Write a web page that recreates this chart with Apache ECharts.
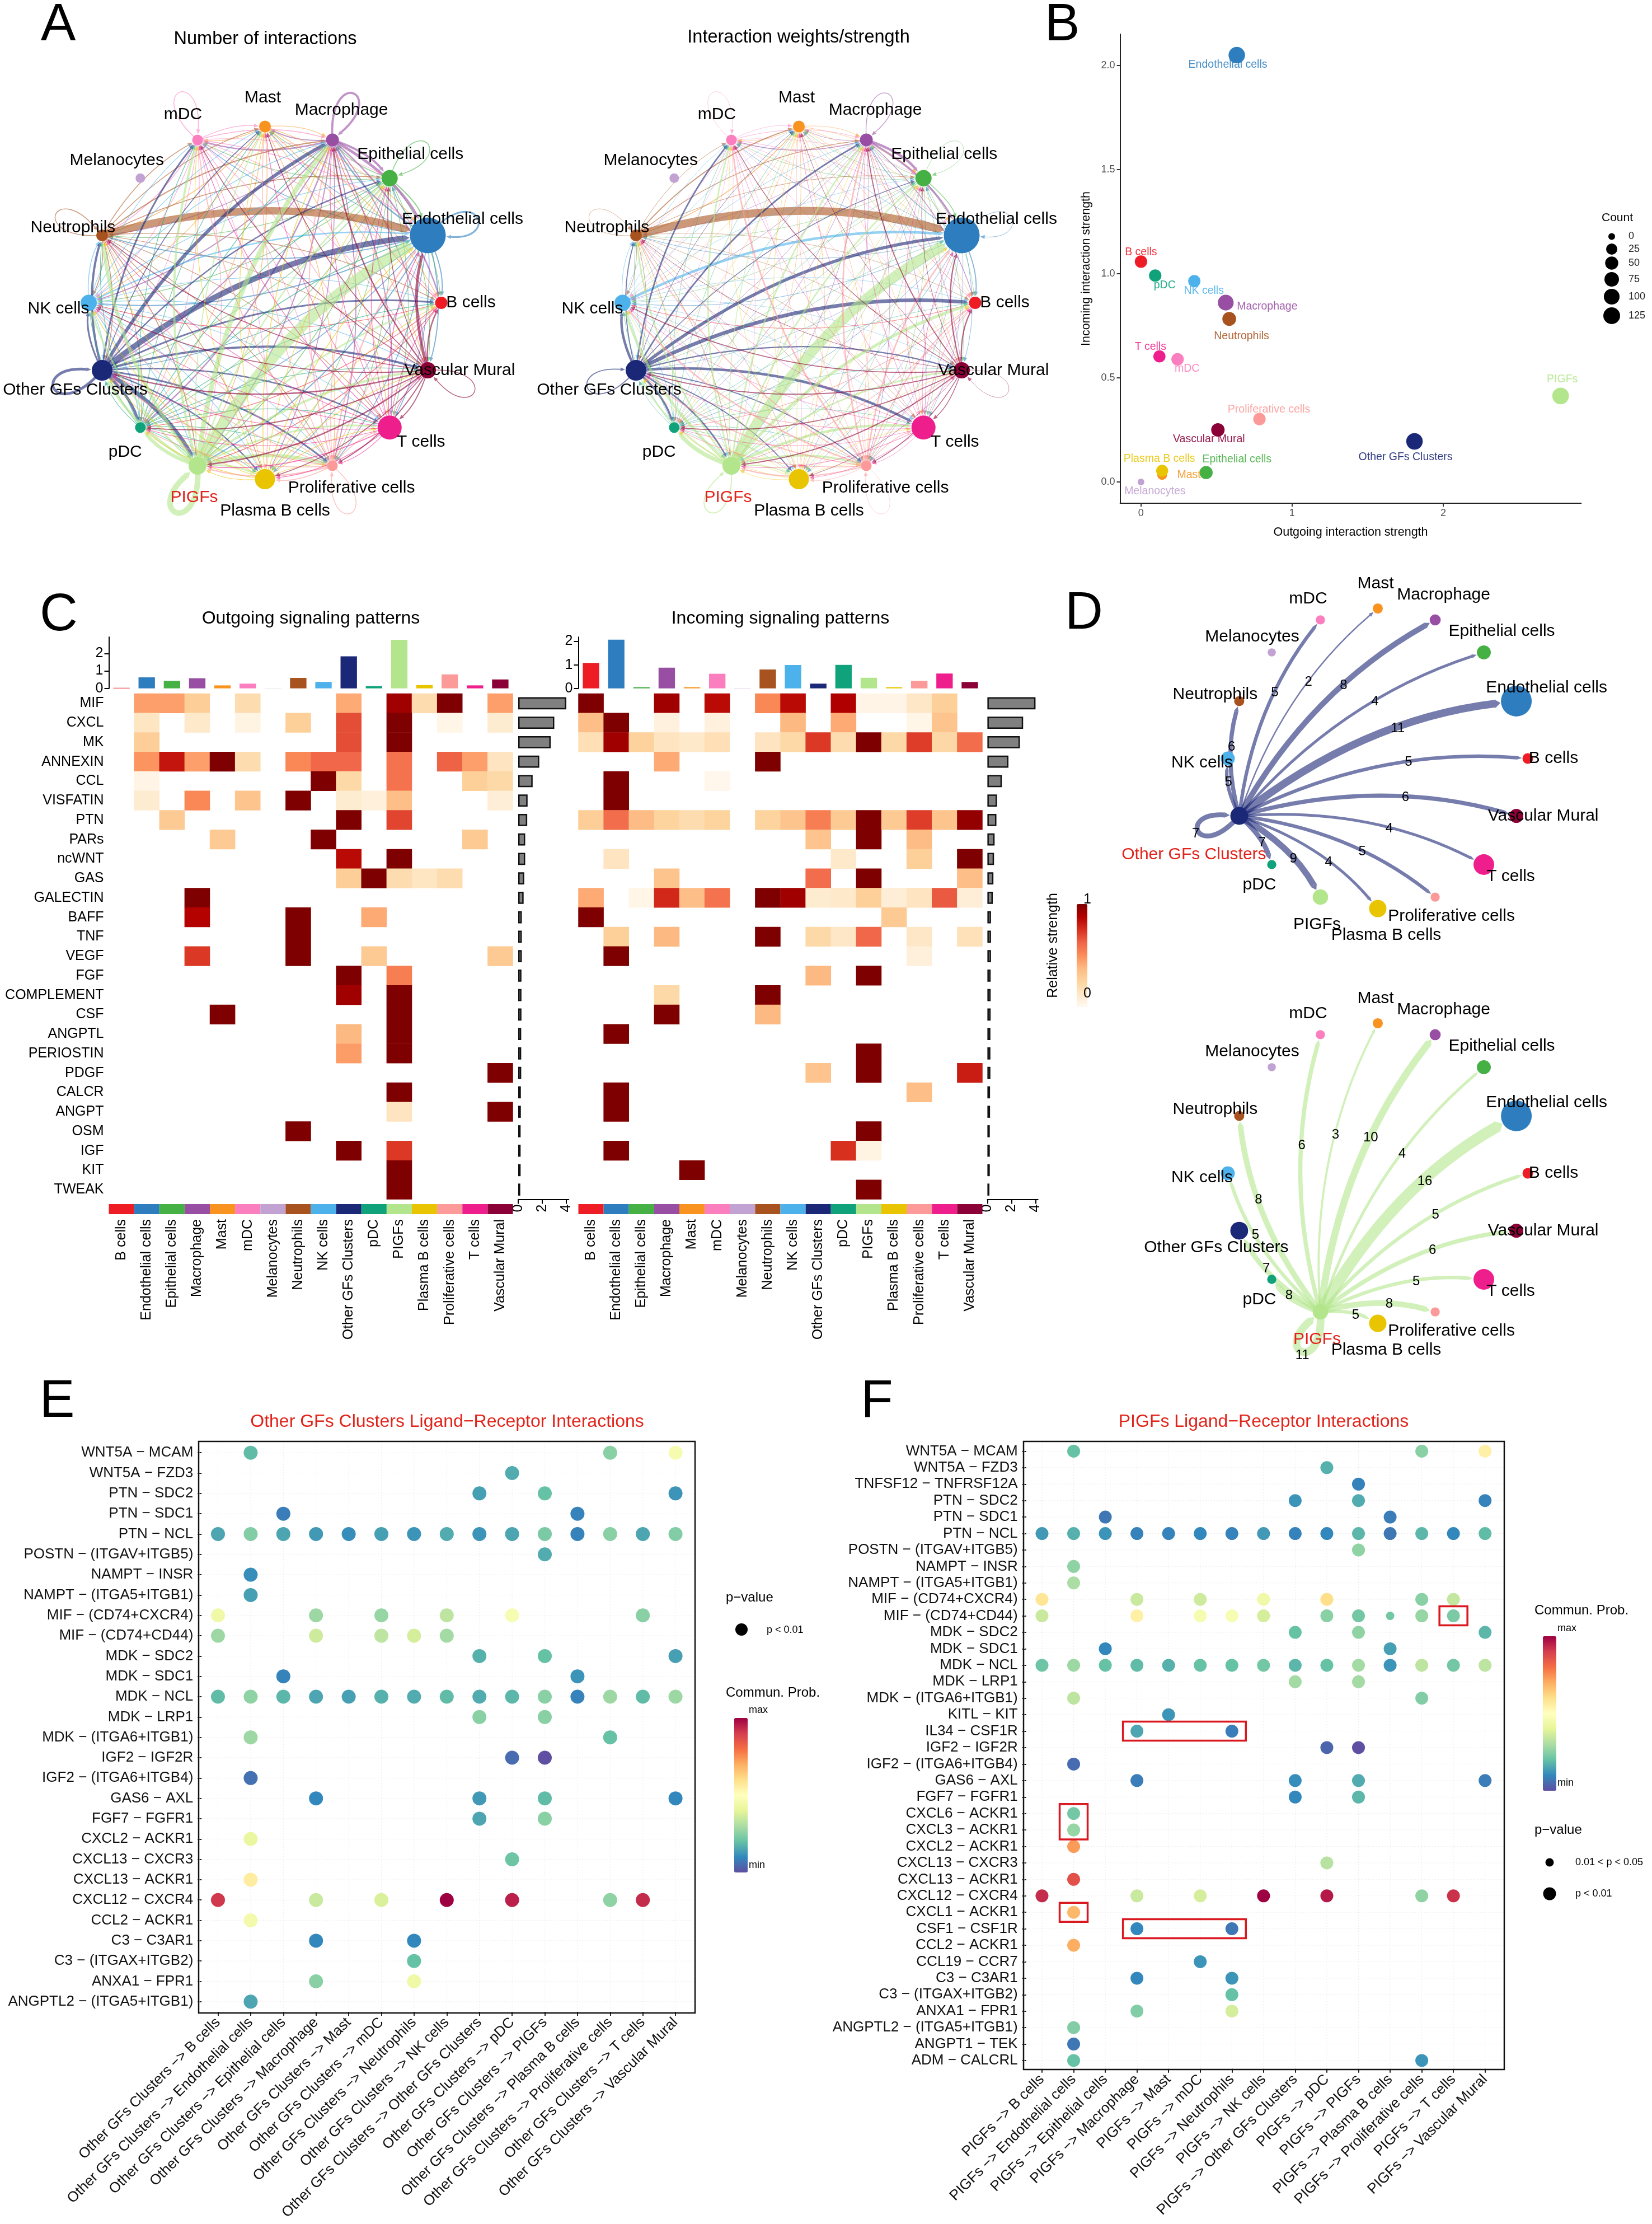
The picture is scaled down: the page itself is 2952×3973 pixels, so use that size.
<!DOCTYPE html>
<html><head><meta charset="utf-8">
<style>html,body{margin:0;padding:0;background:#fff}#c{width:2952px;height:3973px}</style>
<script src="https://cdn.jsdelivr.net/npm/echarts@6/dist/echarts.min.js"></script>
</head><body><div id="c"></div>
<script>
/* ---------- data ---------- */
const cellTypes=['B cells','Endothelial cells','Epithelial cells','Macrophage','Mast','mDC','Melanocytes','Neutrophils','NK cells','Other GFs Clusters','pDC','PIGFs','Plasma B cells','Proliferative cells','T cells','Vascular Mural'];
const cellColors=['#EE1C25','#2E7EBF','#45B044','#984EA3','#F7931E','#FB7EBE','#C2A1D3','#A8531F','#4DB2EC','#1B2777','#10A37B','#B3E68C','#E9C400','#FB9A99','#EE1E8D','#8B0037'];
const vertexWeight=[22,64,29,23,21,19,17,21,29,37,19,32,36,19,43,29];

const interactionCounts=[
[0,0,0,1,0,0,0,0,1,0,1,1,0,0,0,0],
[3,5,2,4,1,2,0,3,3,2,2,3,1,2,2,3],
[1,3,2,2,1,1,0,1,1,1,1,2,1,1,1,1],
[4,7,6,6,3,4,0,2,3,3,4,3,2,3,3,3],
[1,1,0,1,0,1,0,1,1,0,1,1,0,1,1,1],
[1,2,1,2,1,2,0,2,1,1,1,1,1,1,1,1],
[0,0,0,0,0,0,0,0,0,0,0,0,0,0,0,0],
[1,13,2,3,2,2,0,2,2,2,1,2,1,1,1,1],
[1,4,1,2,1,1,0,2,0,1,2,1,1,1,1,1],
[5,11,4,8,2,5,0,6,5,7,7,9,4,5,4,6],
[1,2,1,2,1,1,0,1,1,1,0,1,1,1,1,1],
[5,16,4,10,3,6,0,8,5,7,8,11,5,8,5,6],
[1,2,1,2,1,1,0,1,1,1,1,1,0,1,1,1],
[2,4,2,3,2,3,0,2,2,3,2,4,2,2,2,2],
[1,2,1,1,1,1,0,1,1,1,1,2,1,1,0,1],
[4,7,2,4,2,2,0,2,3,4,3,4,2,3,3,2]];
const interactionWeights=[
[0,0,0,.5,0,0,0,0,1,0,.5,.5,0,0,0,0],
[2,1,1,1.5,.5,1,0,1,1,.5,1,1,.5,.5,.7,1],
[.5,1.5,.5,1,.3,.5,0,.5,.5,.5,.5,.7,.3,.5,.5,.5],
[1.5,4,5,1.5,1,1.5,0,.7,1,1,1,1,.7,1,1,1],
[.4,.5,.3,.5,0,.5,0,1.5,.4,.3,.4,.5,.3,.4,.4,.4],
[.5,1,.5,1,.5,.8,0,.7,.5,.5,.5,.5,.4,.5,.5,.5],
[0,0,0,0,0,0,0,0,0,0,0,0,0,0,0,0],
[.7,16,1,1.5,2,1,0,.8,1,1,.7,1,.5,.7,.7,.7],
[.7,5,.5,1,.5,.7,0,1,0,.5,1,.7,.5,.7,.5,.7],
[7,6,1.5,3,1,3,0,2,5,2,4,3,2,2,5,2.5],
[.4,.7,.4,.7,.4,.5,0,.5,.5,.5,0,.5,.4,.5,.4,.5],
[6,20,3,3,1.5,3,0,3,5,3,8,2,2,4,5,3],
[.4,.6,.4,.6,.4,.5,0,.5,.5,.5,.5,.5,0,.5,.4,.5],
[2,3,1,3,1,3,0,2,3,2,1.5,2.5,1,.8,1.5,1.5],
[.7,1,.5,.7,.5,.7,0,.7,.7,.7,.7,1,.5,.7,0,.5],
[2.5,2.5,1,2,1,1.5,0,1,2,2,2,2,1,1.5,1.5,.7]];

const outgoingStrength=[0,.634,.431,.561,.14,.242,0,.584,.353,1.81,.094,2.777,.14,.784,.122,.509];
const incomingStrength=[1.058,2.049,.045,.861,.034,.589,0,.783,.964,.195,.991,.413,.054,.302,.603,.25];
const cellCounts=[40,118,50,100,12,40,0,62,38,118,40,122,34,40,36,55];
const countLegend=[0,25,50,75,100,125];

const pathways=['MIF','CXCL','MK','ANNEXIN','CCL','VISFATIN','PTN','PARs','ncWNT','GAS','GALECTIN','BAFF','TNF','VEGF','FGF','COMPLEMENT','CSF','ANGPTL','PERIOSTIN','PDGF','CALCR','ANGPT','OSM','IGF','KIT','TWEAK'];
const outgoingHeat=[
[[1,.45],[2,.45],[3,.28],[5,.2],[9,.42],[11,.92],[12,.2],[13,1],[15,.45]],
[[1,.14],[3,.12],[5,.05],[7,.27],[9,.68],[11,1],[13,.03],[15,.1]],
[[1,.28],[9,.68],[11,1]],
[[1,.48],[2,.82],[3,.45],[4,1],[5,.2],[7,.52],[8,.62],[9,.62],[11,.58],[13,.63],[14,.45],[15,.15]],
[[1,.04],[8,1],[9,.22],[11,.58],[14,.27],[15,.22]],
[[1,.1],[3,.52],[5,.33],[7,1],[9,.1],[10,.07],[11,.36],[15,.08]],
[[2,.3],[9,1],[11,.7]],
[[4,.3],[8,1],[14,.3]],
[[9,.85],[11,1]],
[[9,.28],[10,1],[11,.2],[12,.14],[13,.2]],
[[3,1]],
[[3,.87],[7,1],[10,.42]],
[[7,1]],
[[3,.73],[7,1],[10,.3],[15,.3]],
[[9,1],[11,.55]],
[[9,.92],[11,1]],
[[4,1],[11,1]],
[[9,.38],[11,1]],
[[9,.46],[11,1]],
[[15,1]],
[[11,1]],
[[11,.15],[15,1]],
[[7,1]],
[[9,1],[11,.73]],
[[11,1]],
[[11,1]]];
const incomingHeat=[
[[0,1],[3,.92],[5,.85],[7,.52],[8,.85],[10,.88],[11,.04],[12,.04],[13,.13],[14,.27]],
[[0,.36],[1,1],[3,.06],[5,.06],[8,.38],[10,.42],[13,.03],[14,.33]],
[[0,.18],[1,.92],[2,.26],[3,.15],[4,.12],[5,.18],[7,.15],[8,.22],[9,.73],[10,.2],[11,1],[12,.22],[13,.72],[14,.23],[15,.6]],
[[3,.42],[7,1]],
[[1,1],[5,.02]],
[[1,1]],
[[0,.28],[1,.6],[2,.37],[3,.25],[4,.2],[5,.25],[7,.25],[8,.33],[9,.55],[10,.3],[11,1],[12,.3],[13,.72],[14,.33],[15,.95]],
[[9,.33],[11,1],[13,.37]],
[[1,.15],[10,.12],[13,.27],[15,1]],
[[3,.33],[9,.6],[11,1],[15,.36]],
[[0,.42],[2,.03],[3,.77],[4,.36],[5,.58],[7,1],[8,.92],[9,.1],[10,.12],[11,.27],[12,.08],[13,.15],[14,.65],[15,.08]],
[[0,1],[12,.3]],
[[1,.27],[3,.38],[7,1],[9,.22],[10,.13],[11,.62],[13,.13],[15,.17]],
[[1,1],[13,.07]],
[[9,.38],[11,1]],
[[3,.22],[7,1]],
[[3,1],[7,.38]],
[[1,1]],
[[11,1]],
[[9,.33],[11,1],[15,.8]],
[[1,1],[13,.36]],
[[1,1]],
[[11,1]],
[[1,1],[10,.75],[11,.05]],
[[4,1]],
[[11,1]]];
const outgoingTotals=[.03,.63,.43,.58,.17,.27,.01,.6,.37,1.83,.13,2.78,.19,.8,.17,.51];
const incomingTotals=[1.08,2.07,.05,.88,.05,.62,.01,.8,.99,.2,1.0,.45,.05,.32,.63,.27];
const outgoingPathwayTotals=[4.0,3.0,2.7,1.75,1.2,.78,.75,.58,.58,.5,.45,.3,.3,.3,.27,.27,.27,.25,.25,.25,.22,.22,.2,.2,.2,.17];
const incomingPathwayTotals=[4.0,2.97,2.7,1.75,1.2,.8,.75,.6,.55,.5,.45,.3,.3,.3,.27,.27,.27,.25,.25,.25,.22,.22,.2,.2,.2,.17];

const targetCells=['B cells','Endothelial cells','Epithelial cells','Macrophage','Mast','mDC','Neutrophils','NK cells','Other GFs Clusters','pDC','PIGFs','Plasma B cells','Proliferative cells','T cells','Vascular Mural'];
const eRows=['WNT5A − MCAM','WNT5A − FZD3','PTN − SDC2','PTN − SDC1','PTN − NCL','POSTN − (ITGAV+ITGB5)','NAMPT − INSR','NAMPT − (ITGA5+ITGB1)','MIF − (CD74+CXCR4)','MIF − (CD74+CD44)','MDK − SDC2','MDK − SDC1','MDK − NCL','MDK − LRP1','MDK − (ITGA6+ITGB1)','IGF2 − IGF2R','IGF2 − (ITGA6+ITGB4)','GAS6 − AXL','FGF7 − FGFR1','CXCL2 − ACKR1','CXCL13 − CXCR3','CXCL13 − ACKR1','CXCL12 − CXCR4','CCL2 − ACKR1','C3 − C3AR1','C3 − (ITGAX+ITGB2)','ANXA1 − FPR1','ANGPTL2 − (ITGA5+ITGB1)'];
const eDots=[
[[1,.19],[12,.25],[14,.46]],
[[9,.16]],
[[8,.14],[10,.2],[14,.12]],
[[2,.08],[11,.09]],
[[0,.15],[1,.24],[2,.15],[3,.13],[4,.11],[5,.14],[6,.12],[7,.16],[8,.12],[9,.15],[10,.23],[11,.09],[12,.25],[13,.15],[14,.24]],
[[10,.16]],
[[1,.11]],
[[1,.14]],
[[0,.44],[3,.28],[5,.27],[7,.33],[9,.47],[13,.25]],
[[0,.28],[3,.36],[5,.33],[6,.37],[7,.29]],
[[8,.17],[10,.2],[14,.14]],
[[2,.09],[11,.12]],
[[0,.19],[1,.26],[2,.18],[3,.15],[4,.14],[5,.17],[6,.16],[7,.19],[8,.16],[9,.18],[10,.25],[11,.09],[12,.28],[13,.19],[14,.28]],
[[8,.25],[10,.25]],
[[1,.28],[12,.2]],
[[9,.05],[10,0]],
[[1,.06]],
[[3,.1],[8,.13],[10,.19],[14,.1]],
[[8,.15],[10,.25]],
[[1,.42]],
[[9,.21]],
[[1,.56]],
[[0,.91],[3,.35],[5,.38],[7,1],[9,.95],[12,.26],[13,.93]],
[[1,.45]],
[[3,.1],[6,.1]],
[[6,.2]],
[[3,.25],[6,.44]],
[[1,.15]]];
const fRows=['WNT5A − MCAM','WNT5A − FZD3','TNFSF12 − TNFRSF12A','PTN − SDC2','PTN − SDC1','PTN − NCL','POSTN − (ITGAV+ITGB5)','NAMPT − INSR','NAMPT − (ITGA5+ITGB1)','MIF − (CD74+CXCR4)','MIF − (CD74+CD44)','MDK − SDC2','MDK − SDC1','MDK − NCL','MDK − LRP1','MDK − (ITGA6+ITGB1)','KITL − KIT','IL34 − CSF1R','IGF2 − IGF2R','IGF2 − (ITGA6+ITGB4)','GAS6 − AXL','FGF7 − FGFR1','CXCL6 − ACKR1','CXCL3 − ACKR1','CXCL2 − ACKR1','CXCL13 − CXCR3','CXCL13 − ACKR1','CXCL12 − CXCR4','CXCL1 − ACKR1','CSF1 − CSF1R','CCL2 − ACKR1','CCL19 − CCR7','C3 − C3AR1','C3 − (ITGAX+ITGB2)','ANXA1 − FPR1','ANGPTL2 − (ITGA5+ITGB1)','ANGPT1 − TEK','ADM − CALCRL'];
const fDots=[
[[1,.2],[12,.25],[14,.55]],
[[9,.17]],
[[10,.09]],
[[8,.12],[10,.16],[14,.09]],
[[2,.07],[11,.08]],
[[0,.13],[1,.17],[2,.12],[3,.09],[4,.09],[5,.1],[6,.09],[7,.13],[8,.09],[9,.1],[10,.18],[11,.07],[12,.18],[13,.1],[14,.19]],
[[10,.26]],
[[1,.26]],
[[1,.3]],
[[0,.58],[3,.35],[5,.36],[7,.44],[9,.6],[12,.25],[13,.34]],
[[0,.35],[3,.55],[5,.46],[6,.47],[7,.37],[9,.25],[10,.22],[11,.22,1],[12,.27],[13,.23]],
[[8,.2],[10,.26],[14,.18]],
[[2,.1],[11,.14]],
[[0,.21],[1,.28],[2,.2],[3,.19],[4,.17],[5,.2],[6,.2],[7,.22],[8,.18],[9,.2],[10,.29],[11,.12],[12,.33],[13,.22],[14,.33]],
[[8,.29],[10,.29]],
[[1,.33],[12,.24]],
[[4,.12]],
[[3,.15],[6,.08]],
[[9,.04],[10,0]],
[[1,.05]],
[[3,.08],[8,.11],[10,.16],[14,.08]],
[[8,.1],[10,.18]],
[[1,.22]],
[[1,.27]],
[[1,.73]],
[[9,.32]],
[[1,.86]],
[[0,.93],[3,.35],[5,.37],[7,1],[9,.96],[12,.26],[13,.92]],
[[1,.68]],
[[3,.1],[6,.07]],
[[1,.7]],
[[5,.12]],
[[3,.1],[6,.12]],
[[6,.2]],
[[3,.24],[6,.37]],
[[1,.24]],
[[1,.07]],
[[1,.2],[12,.12]]];
/* highlighted boxes: first col, first row, last col, last row */
const fHighlights=[[13,10,13,10],[3,17,6,17],[1,22,1,23],[1,28,1,28],[3,29,6,29]];

/* ---------- style tables ---------- */
const FONT='"Liberation Sans", Arial, sans-serif';
const RED='#E2231A';
const orRd=['#FFFAF2','#FEE8C8','#FDD49E','#FDBB84','#FC8D59','#EF6548','#D7301F','#B30000','#7F0000'];
const spectral=['#5E4FA2','#3288BD','#66C2A5','#ABDDA4','#E6F598','#FFFFBF','#FEE08B','#FDAE61','#F46D43','#D53E4F','#9E0142'];
const labelOffsetA=[[53,0],[62,-29],[37,-43],[16,-53],[-4,-51],[-26,-45],[-42,-32],[-52,-14],[-54,11],[-48,35],[-27,44],[-6,57],[18,57],[34,40],[56,26],[57,0]];
const labelOffsetD=[[46,0],[54,-24],[32,-38],[15,-45],[-4,-44],[-22,-38],[-35,-28],[-43,-12],[-46,8],[-41,30],[-22,36],[-6,49],[15,48],[29,34],[48,21],[48,0]];
const labelOffsetB=[[0,-17],[-16,17],[55,-24],[74,7],[48,0],[17,17],[25,17],[22,31],[17,17],[-16,28],[17,17],[3,-30],[-5,-21],[17,-17],[-16,-17],[-16,17]];

const series=[],grid=[],xAxis=[],yAxis=[],polar=[],angleAxis=[],radiusAxis=[],visualMap=[],graphic=[];
const text=(t,x,y,o={})=>graphic.push({type:'text',x,y,rotation:o.rot||0,silent:true,z:50,style:{text:t,fill:o.color||'#000',font:`${o.weight||'normal'} ${o.size||25}px ${FONT}`,align:o.align||'center',verticalAlign:'middle'}});
const dot=(cx,cy,d)=>graphic.push({type:'circle',silent:true,z:50,shape:{cx,cy,r:d/2},style:{fill:'#000'}});

/* ---------- networks ---------- */
const angleOf=i=>i*22.5;
function addPolar(cx,cy,r){
  const k=polar.length;
  polar.push({center:[cx,cy],radius:[0,r]});
  angleAxis.push({polarIndex:k,type:'value',min:0,max:360,startAngle:0,clockwise:false,show:false});
  radiusAxis.push({polarIndex:k,type:'value',min:0,max:1,show:false});
  return k;
}
function edgesFrom(matrix,only){
  const out=[];
  matrix.forEach((row,s)=>{ if(only!==undefined&&s!==only)return; row.forEach((w,t)=>{ if(w>0) out.push([s,t,w]); }); });
  return out;
}
function network(cx,cy,r,matrix,o){
  const k=addPolar(cx,cy,r);
  const nodeScale=o.nodeScale||1, widthOf=o.widthOf, bend=0.14;
  series.push({type:'custom',coordinateSystem:'polar',polarIndex:k,z:1,silent:true,clip:false,
    data:edgesFrom(matrix,o.only),
    renderItem(params,api){
      const s=api.value(0),t=api.value(1),w=api.value(2);
      const ps=api.coord([1,angleOf(s)]),pt=api.coord([1,angleOf(t)]);
      const lw=widthOf(w),color=cellColors[s];
      const rt=vertexWeight[t]*nodeScale/2;
      const alen=8+lw*0.15,ah=Math.max(3.5,lw*0.56);
      const children=[];
      const st=(f)=>f?{fill:color,opacity:.6}:{fill:'none',stroke:color,lineWidth:lw,opacity:.6};
      let cp1,cp2,tip,u,lp;
      if(s===t){
        const a=-angleOf(s)*Math.PI/180,L=132*(r/315);
        cp1=[ps[0]+L*Math.cos(a-.46),ps[1]+L*Math.sin(a-.46)];
        cp2=[ps[0]+L*Math.cos(a+.46),ps[1]+L*Math.sin(a+.46)];
        u=[-Math.cos(a+.46),-Math.sin(a+.46)];
        tip=[ps[0]-u[0]*(rt+1),ps[1]-u[1]*(rt+1)];
        const b=[tip[0]-u[0]*alen,tip[1]-u[1]*alen];
        children.push({type:'bezierCurve',shape:{x1:ps[0],y1:ps[1],cpx1:cp1[0],cpy1:cp1[1],cpx2:cp2[0],cpy2:cp2[1],x2:b[0],y2:b[1]},style:st(false)});
        lp=[ps[0]+L*.75*Math.cos(a),ps[1]+L*.75*Math.sin(a)];
      }else{
        const dx=pt[0]-ps[0],dy=pt[1]-ps[1];
        const cp=[(ps[0]+pt[0])/2+bend*dy,(ps[1]+pt[1])/2-bend*dx];
        const ex=pt[0]-cp[0],ey=pt[1]-cp[1],el=Math.hypot(ex,ey);
        u=[ex/el,ey/el];
        tip=[pt[0]-u[0]*(rt+1),pt[1]-u[1]*(rt+1)];
        const b=[tip[0]-u[0]*alen,tip[1]-u[1]*alen];
        children.push({type:'bezierCurve',shape:{x1:ps[0],y1:ps[1],cpx1:cp[0],cpy1:cp[1],x2:b[0],y2:b[1]},style:st(false)});
        const f=.6;
        lp=[(1-f)*(1-f)*ps[0]+2*f*(1-f)*cp[0]+f*f*pt[0],(1-f)*(1-f)*ps[1]+2*f*(1-f)*cp[1]+f*f*pt[1]];
      }
      const base=[tip[0]-u[0]*alen,tip[1]-u[1]*alen];
      children.push({type:'polygon',shape:{points:[tip,[base[0]-u[1]*ah,base[1]+u[0]*ah],[base[0]+u[1]*ah,base[1]-u[0]*ah]]},style:st(true)});
      if(o.showCounts) children.push({type:'text',z2:20,style:{text:String(w),x:lp[0],y:lp[1],fill:'#000',font:`24px ${FONT}`,align:'center',verticalAlign:'middle'}});
      return {type:'group',children};
    }});
  series.push({type:'scatter',coordinateSystem:'polar',polarIndex:k,z:3,silent:true,
    data:cellTypes.map((n,i)=>({value:[1,angleOf(i)],symbolSize:vertexWeight[i]*nodeScale,
      itemStyle:{color:cellColors[i],opacity:1},
      label:{show:true,position:'inside',formatter:n,fontFamily:FONT,fontSize:30,color:(o.red===i)?RED:'#000',
        offset:(o.labelOverride&&o.labelOverride[i])||o.offsets[i]}}))});
}
const countWidth=c=>1+0.1*c+0.065*c*c;
network(473.5,541,315,interactionCounts,{offsets:labelOffsetA,widthOf:countWidth,red:11});
network(1427.5,541,315,interactionWeights,{offsets:labelOffsetA,widthOf:w=>Math.max(w*.9,.7),red:11});
network(2462,1355,268,interactionCounts,{only:9,offsets:labelOffsetD,nodeScale:.86,widthOf:c=>1.25*c,showCounts:true,red:9,labelOverride:{9:[-81,69]}});
network(2462,2096,268,interactionCounts,{only:11,offsets:labelOffsetD,nodeScale:.86,widthOf:c=>1.25*c,showCounts:true,red:11});
text('Number of interactions',474,70,{size:32.5});
text('Interaction weights/strength',1427,67,{size:32.5});

/* ---------- panel B ---------- */
const countToSize=c=>12+18*Math.sqrt(c/125);
grid.push({left:2001.6,top:61,width:823.8,height:838});
xAxis.push({gridIndex:0,type:'value',min:-0.138,max:2.913,name:'Outgoing interaction strength',nameLocation:'middle',nameGap:41,nameTextStyle:{fontSize:21.5,fontFamily:FONT,color:'#000'},
  splitLine:{show:false},axisLine:{show:true,onZero:false,lineStyle:{color:'#222',width:2}},axisTick:{show:true,customValues:[0,1,2],length:6,lineStyle:{color:'#333',width:2}},axisLabel:{customValues:[0,1,2],fontSize:18,fontFamily:FONT,color:'#4d4d4d',margin:9}});
yAxis.push({gridIndex:0,type:'value',min:-0.102,max:2.15,name:'Incoming interaction strength',nameLocation:'middle',nameGap:50,nameTextStyle:{fontSize:21.5,fontFamily:FONT,color:'#000'},
  splitLine:{show:false},axisLine:{show:true,onZero:false,lineStyle:{color:'#222',width:2}},axisTick:{show:true,customValues:[0,.5,1,1.5,2],length:6,lineStyle:{color:'#333',width:2}},axisLabel:{customValues:[0,.5,1,1.5,2],fontSize:18,fontFamily:FONT,color:'#4d4d4d',margin:9,formatter:v=>v.toFixed(1)}});
series.push({type:'scatter',xAxisIndex:0,yAxisIndex:0,silent:true,
  data:cellTypes.map((n,i)=>({value:[outgoingStrength[i],incomingStrength[i]],symbolSize:countToSize(cellCounts[i]),itemStyle:{color:cellColors[i],opacity:1},
    label:{show:true,position:'inside',formatter:n,fontFamily:FONT,fontSize:19.5,color:cellColors[i],opacity:.9,offset:labelOffsetB[i]}}))});
text('Count',2890,389,{size:21});
{const ys=[422.5,445,470,499,530,564];
 countLegend.forEach((c,i)=>{dot(2880,ys[i],countToSize(c));text(String(c),2910,ys[i],{size:18,align:'left',color:'#222'});});}

/* ---------- panel C ---------- */
function cartesian(g,x,y){const gi=grid.length;grid.push(g);xAxis.push(Object.assign({gridIndex:gi},x));yAxis.push(Object.assign({gridIndex:gi},y));return gi;}
const hidden={show:false};
const heatSeriesIdx=[];
function heatPanel(left,heat,totals,pathTotals,topMax,showRows,rightLeft){
  const L=722;
  cartesian({left,top:1239,width:L,height:903.5},
    {type:'category',data:cellTypes,show:false,splitLine:hidden},
    {type:'category',data:pathways,inverse:true,axisLine:hidden,axisTick:hidden,splitLine:hidden,
     axisLabel:{show:showRows,interval:0,fontSize:25,fontFamily:FONT,color:'#000',margin:9}});
  const gi=grid.length-1,data=[];
  heat.forEach((row,r)=>row.forEach(c=>data.push([c[0],r,c[1]])));
  series.push({type:'heatmap',xAxisIndex:gi,yAxisIndex:gi,data,silent:true,progressive:0});
  heatSeriesIdx.push(series.length-1);
  // top bars
  const ticks=[0,1,2];
  const gt=cartesian({left,top:1138,width:L,height:91.7},
    {type:'category',data:cellTypes,show:false},
    {type:'value',min:0,max:topMax,splitLine:hidden,axisLine:{show:true,lineStyle:{color:'#000',width:2}},
     axisTick:{show:true,customValues:ticks,length:8,lineStyle:{color:'#000',width:2}},axisLabel:{customValues:ticks,fontSize:25,fontFamily:FONT,color:'#000',margin:10}});
  series.push({type:'bar',xAxisIndex:gt,yAxisIndex:gt,barWidth:'65%',silent:true,data:totals.map((v,i)=>({value:v,itemStyle:{color:cellColors[i]}}))});
  // strip
  const gs=cartesian({left,top:2151,width:L,height:18},
    {type:'category',data:cellTypes,axisLine:hidden,axisTick:hidden,axisLabel:{interval:0,rotate:90,fontSize:25,fontFamily:FONT,color:'#000',margin:9}},
    {type:'value',min:0,max:1,show:false,splitLine:hidden});
  series.push({type:'bar',xAxisIndex:gs,yAxisIndex:gs,barWidth:'100%',silent:true,data:cellTypes.map((n,i)=>({value:1,itemStyle:{color:cellColors[i]}}))});
  // right bars
  const rt=[0,2,4];
  const gr=cartesian({left:rightLeft,top:1239,width:90.3,height:903.5},
    {type:'value',min:0,max:4.2,splitLine:hidden,axisLine:{show:true,onZero:false,lineStyle:{color:'#000',width:2}},
     axisTick:{show:true,customValues:rt,length:8,lineStyle:{color:'#000',width:2}},axisLabel:{customValues:rt,rotate:90,fontSize:25,fontFamily:FONT,color:'#000',margin:9}},
    {type:'category',data:pathways,inverse:true,show:false});
  series.push({type:'bar',xAxisIndex:gr,yAxisIndex:gr,barWidth:'62%',silent:true,data:pathTotals,itemStyle:{color:'#808080',borderColor:'#111',borderWidth:2.5}});
}
heatPanel(194.5,outgoingHeat,outgoingTotals,outgoingPathwayTotals,2.94,true,926);
heatPanel(1033.5,incomingHeat,incomingTotals,incomingPathwayTotals,2.18,false,1764.4);
text('Outgoing signaling patterns',555.5,1105,{size:32});
text('Incoming signaling patterns',1394.5,1105,{size:32});
visualMap.push({type:'continuous',min:0,max:1,dimension:2,seriesIndex:heatSeriesIdx,inRange:{color:orRd},left:1909,top:1600,itemWidth:19,itemHeight:184,calculable:false,text:null,showLabel:false});
text('Relative strength',1882,1689,{size:25,rot:Math.PI/2});
text('1',1943,1607,{size:25});
text('0',1943,1775,{size:25});

/* ---------- panels E, F ---------- */
function dotPanel(g,frame,source,rows,dots,size,smallSize,vmPos){
  const cats=targetCells.map(c=>`${source} −> ${c}`);
  const gi=cartesian(g,
    {type:'category',data:cats,axisLine:hidden,splitLine:hidden,axisTick:{show:true,alignWithLabel:true,length:7,lineStyle:{color:'#222',width:2}},
     axisLabel:{interval:0,rotate:45,fontSize:26,fontFamily:FONT,color:'#111',margin:15}},
    {type:'category',data:rows,inverse:true,axisLine:hidden,splitLine:hidden,axisTick:{show:true,alignWithLabel:true,length:7,lineStyle:{color:'#222',width:2}},
     axisLabel:{interval:0,fontSize:26,fontFamily:FONT,color:'#111',margin:15}});
  graphic.push({type:'rect',silent:true,z:40,shape:frame,style:{fill:'none',stroke:'#111',lineWidth:2.5}});
  // faint guide lines at category centres
  const guides=[];
  rows.forEach((r,i)=>guides.push([0,i,1]));
  cats.forEach((c,i)=>guides.push([i,0,0]));
  series.push({type:'custom',xAxisIndex:gi,yAxisIndex:gi,silent:true,z:1,data:guides,renderItem(p,api){
    const horiz=api.value(2)===1,pt=api.coord([api.value(0),api.value(1)]);
    const sh=horiz?{x1:frame.x,y1:pt[1],x2:frame.x+frame.width,y2:pt[1]}:{x1:pt[0],y1:frame.y,x2:pt[0],y2:frame.y+frame.height};
    return {type:'line',shape:sh,style:{stroke:'#ececec',lineWidth:1,lineDash:[2,3]}};
  }});
  const data=[];
  dots.forEach((row,r)=>row.forEach(c=>data.push({value:[c[0],r,c[1]],symbolSize:c[2]?smallSize:size})));
  series.push({type:'scatter',xAxisIndex:gi,yAxisIndex:gi,silent:true,z:3,data,itemStyle:{opacity:1}});
  visualMap.push({type:'continuous',min:0,max:1,dimension:2,seriesIndex:[series.length-1],inRange:{color:spectral},left:vmPos[0],top:vmPos[1],itemWidth:24,itemHeight:276,calculable:false,text:null,showLabel:false});
  return gi;
}
dotPanel({left:360.3,top:2577,width:876,height:1017},{x:355,y:2575,width:887,height:1021},'Other GFs Clusters',eRows,eDots,25,15,[1297,3054]);
const gF=dotPanel({left:1833.7,top:2577.7,width:848.3,height:1118},{x:1829,y:2575,width:859,height:1122},'PIGFs',fRows,fDots,23,15,[2742,2908]);
series.push({type:'custom',xAxisIndex:gF,yAxisIndex:gF,silent:true,z:4,data:fHighlights,renderItem(p,api){
  const a=api.coord([api.value(0),api.value(1)]),b=api.coord([api.value(2),api.value(3)]),px=25,py=17;
  return {type:'rect',shape:{x:a[0]-px,y:a[1]-py,width:b[0]-a[0]+2*px,height:b[1]-a[1]+2*py},style:{fill:'none',stroke:'#D9181F',lineWidth:3.5}};
}});
text('Other GFs Clusters Ligand−Receptor Interactions',799,2540,{size:32,color:RED});
text('PIGFs Ligand−Receptor Interactions',2258,2540,{size:32,color:RED});
text('p−value',1297,2854,{size:24,align:'left'});
dot(1325,2911,22);
text('p < 0.01',1370,2912,{size:18,align:'left'});
text('Commun. Prob.',1297,3024,{size:24,align:'left'});
text('max',1338,3055,{size:18,align:'left'});
text('min',1338,3332,{size:18,align:'left'});
text('Commun. Prob.',2742,2877,{size:24,align:'left'});
text('max',2783,2909,{size:18,align:'left'});
text('min',2783,3185,{size:18,align:'left'});
text('p−value',2742,3269,{size:24,align:'left'});
dot(2769,3327,15);
text('0.01 < p < 0.05',2815,3327,{size:18,align:'left'});
dot(2769,3383,23);
text('p < 0.01',2815,3383,{size:18,align:'left'});

/* ---------- panel letters ---------- */
[['A',104,46],['B',1898,46],['C',105,1100],['D',1937,1097],['E',102,2505],['F',1567,2505]].forEach(l=>text(l[0],l[1],l[2],{size:94}));

const chart=echarts.init(document.getElementById('c'),null,{renderer:'canvas',width:2952,height:3973});
chart.setOption({animation:false,backgroundColor:'#fff',textStyle:{fontFamily:FONT},grid,xAxis,yAxis,polar,angleAxis,radiusAxis,visualMap,series,graphic});
</script></body></html>
